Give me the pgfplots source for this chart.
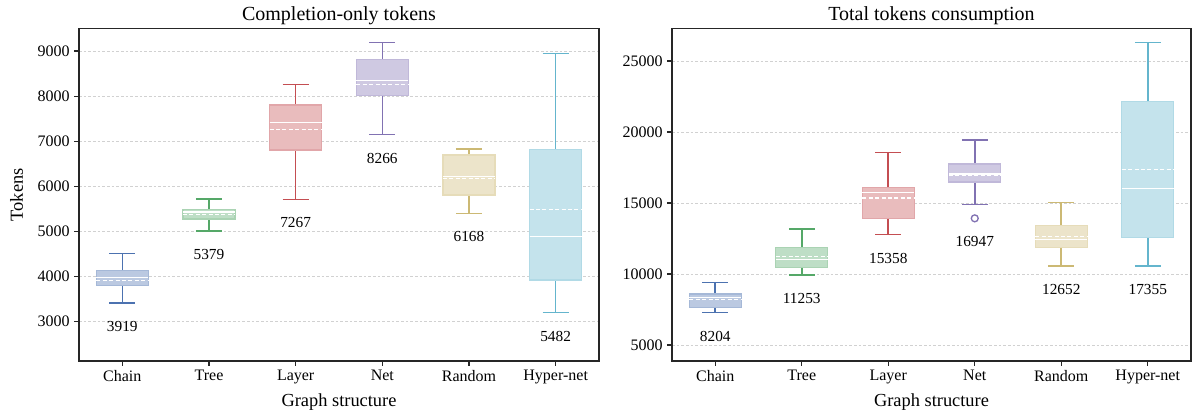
\documentclass[border=0pt]{standalone}
\usepackage{fontspec}
\setmainfont{Liberation Serif}
\usepackage{pgfplots}
\pgfplotsset{compat=1.18}
\usepgfplotslibrary{statistics}
\definecolor{cA}{HTML}{4C72B0}
\definecolor{cB}{HTML}{55A868}
\definecolor{cC}{HTML}{C44E52}
\definecolor{cD}{HTML}{8172B2}
\definecolor{cE}{HTML}{CCB974}
\definecolor{cF}{HTML}{64B5CD}
\tikzset{lab/.style={font=\fontsize{11.5}{13}\selectfont, yshift=-17.5pt}}
\pgfplotsset{
  mybox/.style={
    scale only axis, height=249.2pt,
    xmin=0.5, xmax=6.5, xtick={1,2,3,4,5,6},
    xticklabels={Chain,Tree,Layer,Net,Random,Hyper-net},
    tick align=outside, tick pos=left, major tick length=3.5pt,
    ymajorgrids, grid style={dash pattern=on 2pt off 1.5pt, black!18, line width=0.5pt},
    axis line style={line width=0.9pt, black!85},
    tick style={line width=0.8pt, black!85},
    ticklabel style={font=\fontsize{12}{14}\selectfont},
    label style={font=\fontsize{13.8}{16}\selectfont},
    every axis title shift=0pt,
    title style={font=\fontsize{15}{17}\selectfont, at={(0.5,1)}, anchor=base, yshift=6.5pt},
    ylabel shift=4pt,
    xlabel={Graph structure},
    boxplot/draw direction=y,
    boxplot/box extend=0.6, boxplot/whisker extend=0.3,
    boxplot/draw/median/.code={\draw[white, line width=0.9pt] (boxplot box cs:\pgfplotsboxplotvalue{median},0) -- (boxplot box cs:\pgfplotsboxplotvalue{median},1);},
    boxplot/draw/average/.code={\draw[white, line width=0.9pt, dash pattern=on 3pt off 1.8pt] (boxplot box cs:\pgfplotsboxplotvalue{average},0) -- (boxplot box cs:\pgfplotsboxplotvalue{average},1);},
  },
  bx/.style={draw=#1, line width=1.2pt, boxplot/draw direction=y,
    boxplot/every box/.style={draw=#1!50, fill=#1!38, line width=0.9pt},
    boxplot/every whisker/.style={draw=#1, line width=1.2pt}},
}
\begin{document}
\begin{tikzpicture}
\useasboundingbox (0,0) rectangle (897pt,310.5pt);
% values in thousands of tokens
\begin{axis}[mybox, at={(59.25pt,39.75pt)}, anchor=south west, width=390pt,
  ymin=2.129, ymax=9.494, ytick={3,4,5,6,7,8,9},
  yticklabels={3000,4000,5000,6000,7000,8000,9000},
  title={Completion-only tokens}, ylabel={Tokens}]
\addplot[bx=cA, boxplot prepared={draw position=1, lower whisker=3.408, lower quartile=3.807, median=3.984, upper quartile=4.131, upper whisker=4.516, average=3.919}] coordinates {};
\addplot[bx=cB, boxplot prepared={draw position=2, lower whisker=5.004, lower quartile=5.277, median=5.432, upper quartile=5.483, upper whisker=5.720, average=5.379}] coordinates {};
\addplot[bx=cC, boxplot prepared={draw position=3, lower whisker=5.712, lower quartile=6.806, median=7.412, upper quartile=7.803, upper whisker=8.261, average=7.267}] coordinates {};
\addplot[bx=cD, boxplot prepared={draw position=4, lower whisker=7.146, lower quartile=8.010, median=8.342, upper quartile=8.815, upper whisker=9.192, average=8.266}] coordinates {};
\addplot[bx=cE, boxplot prepared={draw position=5, lower whisker=5.402, lower quartile=5.808, median=6.215, upper quartile=6.695, upper whisker=6.828, average=6.168}] coordinates {};
\addplot[bx=cF, boxplot prepared={draw position=6, lower whisker=3.200, lower quartile=3.924, median=4.885, upper quartile=6.813, upper whisker=8.948, average=5.482}] coordinates {};
\node[lab] at (axis cs:1,3.408) {3919};
\node[lab] at (axis cs:2,5.004) {5379};
\node[lab] at (axis cs:3,5.712) {7267};
\node[lab] at (axis cs:4,7.146) {8266};
\node[lab] at (axis cs:5,5.402) {6168};
\node[lab] at (axis cs:6,3.200) {5482};
\end{axis}
\begin{axis}[mybox, at={(504pt,39.75pt)}, anchor=south west, width=389.25pt,
  ymin=3.873, ymax=27.275, ytick={5,10,15,20,25},
  yticklabels={5000,10000,15000,20000,25000},
  title={Total tokens consumption}]
\addplot[bx=cA, boxplot prepared={draw position=1, lower whisker=7.277, lower quartile=7.629, median=8.350, upper quartile=8.592, upper whisker=9.413, average=8.204}] coordinates {};
\addplot[bx=cB, boxplot prepared={draw position=2, lower whisker=9.930, lower quartile=10.446, median=11.033, upper quartile=11.878, upper whisker=13.169, average=11.253}] coordinates {};
\addplot[bx=cC, boxplot prepared={draw position=3, lower whisker=12.770, lower quartile=13.897, median=15.728, upper quartile=16.103, upper whisker=18.568, average=15.358}] coordinates {};
\addplot[bx=cD, mark=o, mark size=2.6pt, mark options={draw=cD, line width=1pt, fill=none}, boxplot prepared={draw position=4, lower whisker=14.906, lower quartile=16.479, median=17.042, upper quartile=17.746, upper whisker=19.437, average=16.947}] table[row sep=\\, y index=0] {13.920\\};
\addplot[bx=cE, boxplot prepared={draw position=5, lower whisker=10.563, lower quartile=11.854, median=12.441, upper quartile=13.427, upper whisker=15.047, average=12.652}] coordinates {};
\addplot[bx=cF, boxplot prepared={draw position=6, lower whisker=10.563, lower quartile=12.559, median=16.033, upper quartile=22.136, upper whisker=26.315, average=17.355}] coordinates {};
\node[lab] at (axis cs:1,7.277) {8204};
\node[lab] at (axis cs:2,9.930) {11253};
\node[lab] at (axis cs:3,12.770) {15358};
\node[lab] at (axis cs:4,13.920) {16947};
\node[lab] at (axis cs:5,10.563) {12652};
\node[lab] at (axis cs:6,10.563) {17355};
\end{axis}
\end{tikzpicture}
\end{document}
